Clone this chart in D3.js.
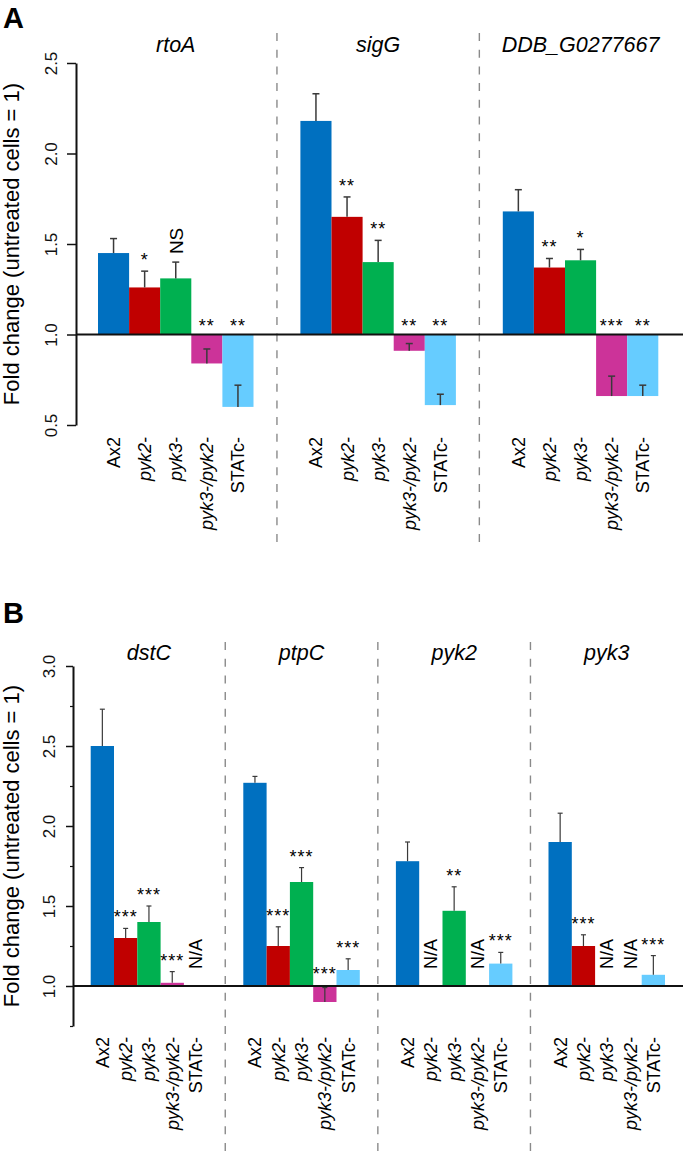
<!DOCTYPE html>
<html>
<head>
<meta charset="utf-8">
<script src="https://cdn.jsdelivr.net/npm/d3@7"></script>
<style>
  body { margin: 0; background: #fff; }
  svg { display: block; font-family: "Liberation Sans", Arial, Helvetica, sans-serif; }
</style>
</head>
<body>
<div id="chart"></div>
<script>
// strains shown in every gene group
var strains = ["Ax2", "pyk2-", "pyk3-", "pyk3-/pyk2-", "STATc-"];
var strainItalic = [false, true, true, true, false];
var strainColors = ["#0070c0", "#c00000", "#00b050", "#cc3399", "#66ccff"];

// panel A
var genesA = ["rtoA", "sigG", "DDB_G0277667"];
var meansA = [
  [1.45, 1.26, 1.31, 0.84, 0.60],
  [2.18, 1.65, 1.40, 0.91, 0.61],
  [1.68, 1.37, 1.41, 0.66, 0.66]
];
var errorsA = [
  [0.08, 0.09, 0.09, 0.08, 0.12],
  [0.15, 0.11, 0.12, 0.04, 0.06],
  [0.12, 0.05, 0.06, 0.11, 0.06]
];
var sigA = [
  ["", "*", "NS", "**", "**"],
  ["", "**", "**", "**", "**"],
  ["", "**", "*", "***", "**"]
];
var ticksA = [0.5, 1.0, 1.5, 2.0, 2.5];

// panel B (null = not measured, N/A)
var genesB = ["dstC", "ptpC", "pyk2", "pyk3"];
var meansB = [
  [2.50, 1.30, 1.40, 1.02, null],
  [2.27, 1.25, 1.65, 0.90, 1.10],
  [1.78, null, 1.47, null, 1.14],
  [1.90, 1.25, null, null, 1.07]
];
var errorsB = [
  [0.23, 0.06, 0.10, 0.07, null],
  [0.04, 0.12, 0.09, 0.09, 0.07],
  [0.12, null, 0.15, null, 0.07],
  [0.18, 0.07, null, null, 0.12]
];
var sigB = [
  ["", "***", "***", "***", "N/A"],
  ["", "***", "***", "***", "***"],
  ["", "N/A", "**", "N/A", "***"],
  ["", "***", "N/A", "N/A", "***"]
];
var ticksB = [1.0, 1.5, 2.0, 2.5, 3.0];
var minorTicksB = [0.75, 1.25, 1.75, 2.25, 2.75];

var W = 683, H = 1159;
var svg = d3.select("#chart").append("svg")
  .attr("width", W).attr("height", H);

svg.append("rect").attr("width", W).attr("height", H).attr("fill", "#fff");

function drawPanel(p) {
  var g = svg.append("g");

  var y = d3.scaleLinear().domain(p.domain).range([p.bottom, p.top]);

  // groups and bars inside a group
  var groupX = d3.scaleBand().domain(p.genes)
    .range([p.axisX, p.axisX + p.step * p.genes.length]);
  var barX = d3.scaleBand().domain(strains)
    .range([p.barOffset, p.barOffset + p.barW * strains.length]);

  // dashed separators between groups
  for (var i = 1; i < p.genes.length; i++) {
    var endPrev = groupX(p.genes[i - 1]) + barX.range()[1];
    var startNext = groupX(p.genes[i]) + barX.range()[0];
    g.append("line")
      .attr("x1", (endPrev + startNext) / 2).attr("x2", (endPrev + startNext) / 2)
      .attr("y1", p.divTop).attr("y2", p.divBottom)
      .attr("stroke", "#8a8a8a").attr("stroke-width", 1.4)
      .attr("stroke-dasharray", "8,8.7");
  }

  // gene titles
  g.selectAll(".gene").data(p.genes).enter().append("text")
    .attr("x", function(d) { return groupX(d) + (barX.range()[0] + barX.range()[1]) / 2; })
    .attr("y", p.titleY)
    .attr("text-anchor", "middle")
    .attr("font-size", 21.5).attr("font-style", "italic")
    .text(function(d) { return d; });

  var y0 = y(1);

  p.genes.forEach(function(gene, gi) {
    var gx = groupX(gene);
    strains.forEach(function(s, si) {
      var v = p.means[gi][si];
      var e = p.errors[gi][si];
      var cx = gx + barX(s) + barX.bandwidth() / 2;

      if (v !== null) {
        g.append("rect")
          .attr("x", gx + barX(s))
          .attr("y", y(Math.max(v, 1)))
          .attr("width", barX.bandwidth())
          .attr("height", Math.abs(y(v) - y0))
          .attr("fill", strainColors[si]);
        // error bar goes up from the bar end
        g.append("line")
          .attr("x1", cx).attr("x2", cx)
          .attr("y1", y(v)).attr("y2", y(v + e))
          .attr("stroke", "#3a3a3a").attr("stroke-width", p.errW);
        g.append("line")
          .attr("x1", cx - p.capW / 2).attr("x2", cx + p.capW / 2)
          .attr("y1", y(v + e)).attr("y2", y(v + e))
          .attr("stroke", "#3a3a3a").attr("stroke-width", p.errW);
      }

      var lab = p.sig[gi][si];
      if (lab === "NS") {
        g.append("text")
          .attr("transform", "translate(" + cx + "," + (y(v + e) - 8) + ") rotate(-90)")
          .attr("dy", "0.36em")
          .attr("font-size", 19)
          .text(lab);
      } else if (lab === "N/A") {
        g.append("text")
          .attr("transform", "translate(" + cx + "," + (y0 - 17) + ") rotate(-90)")
          .attr("dy", "0.36em")
          .attr("font-size", 18)
          .text(lab);
      } else if (lab !== "") {
        var by = v >= 1 ? y(v + e) - p.starGap : y0 - p.starGapNeg;
        g.append("text")
          .attr("x", cx).attr("y", by)
          .attr("text-anchor", "middle")
          .attr("font-size", p.starSize)
          .attr("letter-spacing", 1)
          .text(lab);
      }

      // rotated strain label below the axis
      g.append("text")
        .attr("transform", "translate(" + cx + "," + p.labelTop + ") rotate(-90)")
        .attr("text-anchor", "end")
        .attr("dy", "0.36em")
        .attr("font-size", 18)
        .attr("font-style", strainItalic[si] ? "italic" : "normal")
        .text(s);
    });
  });

  // baseline at 1.0
  g.append("line")
    .attr("x1", p.axisX).attr("x2", W)
    .attr("y1", y0).attr("y2", y0)
    .attr("stroke", "#111").attr("stroke-width", 2);

  // y axis
  var axis = g.append("g")
    .attr("transform", "translate(" + p.axisX + ",0)")
    .call(d3.axisLeft(y).tickValues(p.ticks).tickSize(p.tickLen).tickSizeOuter(0)
      .tickFormat(d3.format(".1f")));
  axis.select(".domain").attr("stroke", "#111").attr("stroke-width", 2);
  axis.selectAll(".tick line").attr("stroke", "#111").attr("stroke-width", 1.5);
  axis.selectAll(".tick text")
    .attr("transform", "rotate(-90)")
    .attr("x", 0).attr("y", -p.labelGap).attr("dy", 0)
    .attr("text-anchor", "middle")
    .attr("font-size", 17).attr("fill", "#111")
    .attr("font-family", null);
  if (p.minor) {
    var minor = g.append("g")
      .attr("transform", "translate(" + p.axisX + ",0)")
      .call(d3.axisLeft(y).tickValues(p.minor).tickSize(3).tickSizeOuter(0).tickFormat(""));
    minor.select(".domain").remove();
    minor.selectAll(".tick line").attr("stroke", "#111").attr("stroke-width", 1.2);
  }

  // y axis title
  g.append("text")
    .attr("transform", "translate(19," + ((p.top + p.bottom) / 2) + ") rotate(-90)")
    .attr("text-anchor", "middle")
    .attr("font-size", 22)
    .text("Fold change (untreated cells = 1)");

  // panel letter
  g.append("text")
    .attr("x", 3).attr("y", p.letterY)
    .attr("font-size", 29).attr("font-weight", "bold")
    .text(p.letter);
}

drawPanel({
  letter: "A", letterY: 28,
  genes: genesA, means: meansA, errors: errorsA, sig: sigA, ticks: ticksA,
  domain: [0.5, 2.5], top: 63, bottom: 425, axisX: 76,
  step: 202.4, barOffset: 22, barW: 31.1,
  divTop: 33, divBottom: 545, titleY: 52, labelTop: 437,
  tickLen: 9, labelGap: 19, errW: 1.5, capW: 7,
  starSize: 18, starGap: 5, starGapNeg: 3
});

drawPanel({
  letter: "B", letterY: 623,
  genes: genesB, means: meansB, errors: errorsB, sig: sigB, ticks: ticksB, minor: minorTicksB,
  domain: [0.75, 3.0], top: 666, bottom: 1026, axisX: 73,
  step: 152.6, barOffset: 17.7, barW: 23.3,
  divTop: 642, divBottom: 1159, titleY: 660, labelTop: 1037,
  tickLen: 7, labelGap: 18, errW: 1.2, capW: 5,
  starSize: 18, starGap: 5, starGapNeg: 6
});
</script>
</body>
</html>
